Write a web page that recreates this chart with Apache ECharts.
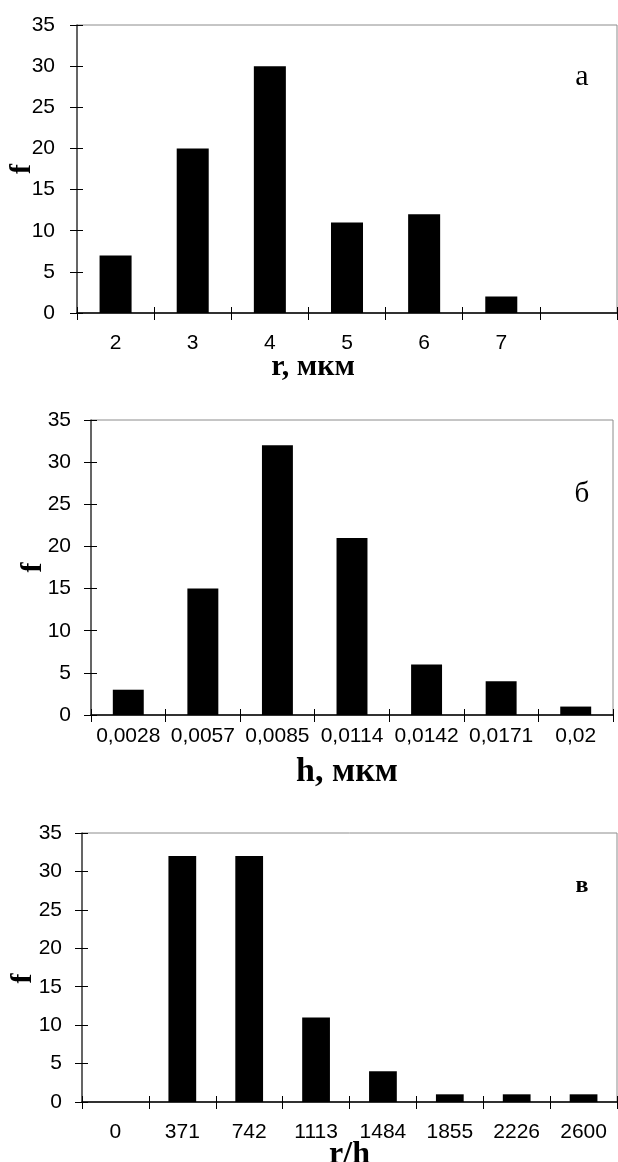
<!DOCTYPE html>
<html>
<head>
<meta charset="utf-8">
<script src="https://cdn.jsdelivr.net/npm/echarts@6/dist/echarts.min.js"></script>
<style>
html,body{margin:0;padding:0;background:#fff;}
#chart{width:618px;height:1162px;}
</style>
</head>
<body>
<div id="chart"></div>
<script>
// ---- data ----
const catsA = ['2', '3', '4', '5', '6', '7', ''];
const valsA = [7, 20, 30, 11, 12, 2, 0];
const catsB = ['0,0028', '0,0057', '0,0085', '0,0114', '0,0142', '0,0171', '0,02'];
const valsB = [3, 15, 32, 21, 6, 4, 1];
const catsC = ['0', '371', '742', '1113', '1484', '1855', '2226', '2600'];
const valsC = [0, 32, 32, 11, 4, 1, 1, 1];
const yTicksMax = 35;
const yTickStep = 5;
const xNames = ['r, мкм', 'h, мкм', 'r/h'];
const yName = 'f';
const panelLetters = ['а', 'б', 'в'];

// ---- layout ----
const panels = [
  { cats: catsA, vals: valsA, grid: { left: 77, top: 25, width: 540, height: 288 },
    yLabelMargin: 22, xLabelMargin: 20, xFont: 21, yFont: 21,
    xNameGap: 39, xNameFont: 30, xNamePad: [0, 68, 0, 0], yNameGap: 40, yNamePad: [0, 0, 0, 0] },
  { cats: catsB, vals: valsB, grid: { left: 91, top: 420, width: 522, height: 295 },
    yLabelMargin: 20, xLabelMargin: 11, xFont: 21, yFont: 21,
    xNameGap: 40, xNameFont: 34, xNamePad: [0, 10, 0, 0], yNameGap: 43, yNamePad: [0, 0, 0, 0] },
  { cats: catsC, vals: valsC, grid: { left: 82, top: 833, width: 535, height: 269 },
    yLabelMargin: 20, xLabelMargin: 20, xFont: 21, yFont: 21,
    xNameGap: 37, xNameFont: 32, xNamePad: [0, 0, 0, 0], yNameGap: 44, yNamePad: [0, 22, 0, 0] }
];

const grids = [], xAxes = [], yAxes = [], series = [];
panels.forEach((p, i) => {
  grids.push(Object.assign({
    show: true, borderColor: '#8c8c8c', borderWidth: 1, backgroundColor: 'transparent',
    containLabel: false, outerBoundsMode: 'none'
  }, p.grid));
  // main x axis (ticks outward, labels, name)
  xAxes.push({
    type: 'category', gridIndex: i, data: p.cats, position: 'bottom',
    boundaryGap: true,
    axisLine: { show: true, onZero: false, lineStyle: { color: '#000', width: 1.5 } },
    axisTick: { show: true, inside: false, length: 7, alignWithLabel: false, interval: 0,
      lineStyle: { color: '#000', width: 1 } },
    axisLabel: { show: true, interval: 0, margin: p.xLabelMargin, color: '#000',
      fontFamily: 'Liberation Sans, Arial, sans-serif', fontSize: p.xFont },
    splitLine: { show: false },
    name: xNames[i], nameLocation: 'middle', nameGap: p.xNameGap, nameMoveOverlap: false,
    nameTextStyle: { fontFamily: 'Liberation Serif, Times New Roman, serif', fontWeight: 'bold',
      fontSize: p.xNameFont, color: '#000', padding: p.xNamePad }
  });
  // companion x axis: inward tick halves (crossing ticks)
  xAxes.push({
    type: 'category', gridIndex: i, data: p.cats, position: 'bottom', boundaryGap: true,
    axisLine: { show: false, onZero: false },
    axisTick: { show: true, inside: true, length: 6, interval: 0, lineStyle: { color: '#000', width: 1 } },
    axisLabel: { show: false }, splitLine: { show: false }
  });
  yAxes.push({
    type: 'value', gridIndex: i, position: 'left', min: 0, max: yTicksMax, interval: yTickStep,
    axisLine: { show: true, onZero: false, lineStyle: { color: '#444', width: 1.5 } },
    axisTick: { show: true, inside: false, length: 7, lineStyle: { color: '#000', width: 1 } },
    axisLabel: { show: true, margin: p.yLabelMargin, color: '#000',
      fontFamily: 'Liberation Sans, Arial, sans-serif', fontSize: p.yFont },
    splitLine: { show: false },
    name: yName, nameLocation: 'middle', nameGap: p.yNameGap, nameRotate: 90, nameMoveOverlap: false,
    nameTextStyle: { fontFamily: 'Liberation Serif, Times New Roman, serif', fontWeight: 'bold',
      fontSize: 30, color: '#000', padding: p.yNamePad }
  });
  yAxes.push({
    type: 'value', gridIndex: i, position: 'left', min: 0, max: yTicksMax, interval: yTickStep,
    axisLine: { show: false, onZero: false },
    axisTick: { show: true, inside: true, length: 6, lineStyle: { color: '#000', width: 1 } },
    axisLabel: { show: false }, splitLine: { show: false }
  });
  series.push({
    type: 'bar', xAxisIndex: i * 2, yAxisIndex: i * 2, data: p.vals,
    barWidth: '41.5%', itemStyle: { color: '#000' }, silent: true, animation: false
  });
});

const letterPos = [
  { x: 582, y: 77, size: 30, weight: 'normal' },
  { x: 582, y: 494, size: 29, weight: 'normal' },
  { x: 582, y: 886, size: 24, weight: 'bold' }
];
const graphics = panelLetters.map((t, i) => ({
  type: 'text', x: letterPos[i].x, y: letterPos[i].y,
  style: { text: t, fill: '#000', font: letterPos[i].weight + ' ' + letterPos[i].size + 'px "Liberation Serif", serif',
    textAlign: 'center', textVerticalAlign: 'middle' }
}));

const chart = echarts.init(document.getElementById('chart'), null, { renderer: 'canvas' });
chart.setOption({
  animation: false,
  backgroundColor: '#fff',
  grid: grids, xAxis: xAxes, yAxis: yAxes, series: series,
  graphic: graphics
});
</script>
</body>
</html>
